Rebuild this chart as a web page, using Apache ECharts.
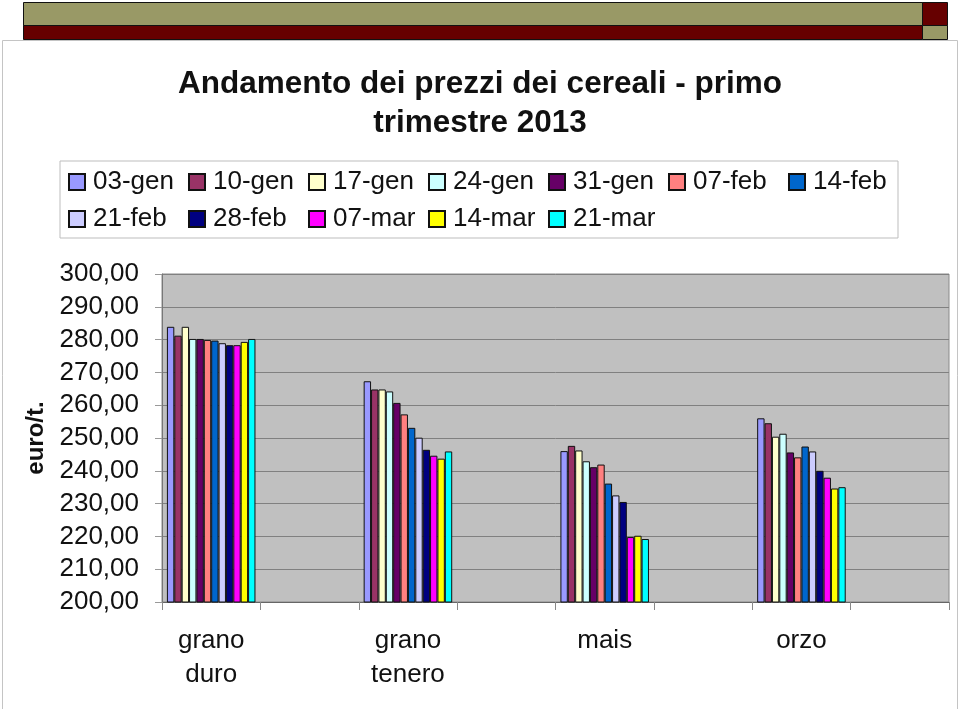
<!DOCTYPE html>
<html>
<head>
<meta charset="utf-8">
<script src="https://cdn.jsdelivr.net/npm/echarts@6/dist/echarts.min.js"></script>
<style>html,body{margin:0;padding:0;background:#fff}#c{width:960px;height:709px}</style>
</head>
<body>
<div id="c"></div>
<script>
// ---- data ----
var crops = ['grano\nduro', 'grano\ntenero', 'mais', 'orzo'];
var dates = ['03-gen', '10-gen', '17-gen', '24-gen', '31-gen', '07-feb', '14-feb', '21-feb', '28-feb', '07-mar', '14-mar', '21-mar'];
var granoDuro   = [283.9, 281.2, 283.9, 280.2, 280.2, 279.9, 279.7, 278.9, 278.3, 278.3, 279.3, 280.2];
var granoTenero = [267.3, 264.8, 264.8, 264.2, 260.7, 257.2, 253.1, 250.1, 246.4, 244.6, 243.7, 245.9];
var mais        = [246.0, 247.6, 246.2, 242.9, 241.1, 241.9, 236.1, 232.5, 230.5, 219.8, 220.2, 219.2];
var orzo        = [256.0, 254.5, 250.4, 251.3, 245.6, 244.1, 247.4, 245.9, 240.0, 237.9, 234.6, 235.0];
var yTicks = {min: 200, max: 300, step: 10};

var colors = ['#9999FF', '#993366', '#FFFFCC', '#CCFFFF', '#660066', '#FF8080', '#0066CC', '#CCCCFF', '#000080', '#FF00FF', '#FFFF00', '#00FFFF'];
var FONT = '"Liberation Sans", Arial, sans-serif';

// Category axis: each crop followed by an empty slot (as in the original chart)
var axisCats = [];
crops.forEach(function (c) { axisCats.push(c); axisCats.push(''); });
var byCrop = [granoDuro, granoTenero, mais, orzo];

var series = dates.map(function (d, i) {
  var data = [];
  byCrop.forEach(function (arr) { data.push(arr[i]); data.push(null); });
  return {
    name: d,
    type: 'bar',
    data: data,
    barGap: '0%',
    barCategoryGap: '10%',
    itemStyle: {color: colors[i], borderColor: '#111', borderWidth: 1},
    emphasis: {disabled: true}
  };
});

var chart = echarts.init(document.getElementById('c'), null, {renderer: 'canvas'});
chart.setOption({
  animation: false,
  backgroundColor: '#fff',
  graphic: [
    {type: 'rect', shape: {x: 2.5, y: 40.5, width: 955, height: 700}, style: {fill: '#fff', stroke: '#c4c4c4', lineWidth: 1}, z: -10},
    {type: 'rect', shape: {x: 23.5, y: 2.5, width: 899, height: 23}, style: {fill: '#999966', stroke: '#111', lineWidth: 1}},
    {type: 'rect', shape: {x: 922.5, y: 2.5, width: 25, height: 23}, style: {fill: '#660000', stroke: '#111', lineWidth: 1}},
    {type: 'rect', shape: {x: 23.5, y: 25.5, width: 899, height: 14}, style: {fill: '#660000', stroke: '#111', lineWidth: 1}},
    {type: 'rect', shape: {x: 922.5, y: 25.5, width: 25, height: 14}, style: {fill: '#999966', stroke: '#111', lineWidth: 1}}
  ],
  title: {
    text: 'Andamento dei prezzi dei cereali - primo\ntrimestre 2013',
    left: 'center',
    top: 60,
    textStyle: {fontFamily: FONT, fontWeight: 'bold', fontSize: 31.5, lineHeight: 39, color: '#111', align: 'center'}
  },
  legend: {
    left: 60,
    top: 161,
    width: 839,
    padding: [8, 1, 6, 8],
    backgroundColor: '#fff',
    borderColor: '#bdbdbd',
    borderWidth: 1,
    icon: 'rect',
    itemWidth: 16,
    itemHeight: 16,
    itemGap: 11,
    selectedMode: false,
    textStyle: {fontFamily: FONT, fontSize: 26, color: '#111', width: 84, lineHeight: 26, padding: [0, 0, 0, 3]},
    data: dates
  },
  grid: {left: 162, right: 11, top: 274, bottom: 107, backgroundColor: '#c0c0c0', show: true, borderColor: '#8a8a8a', borderWidth: 1},
  xAxis: {
    type: 'category',
    data: axisCats,
    axisLine: {lineStyle: {color: '#666', width: 1}},
    axisTick: {show: true, length: 8, lineStyle: {color: '#888'}},
    axisLabel: {fontFamily: FONT, fontSize: 26, color: '#111', lineHeight: 34, margin: 22, interval: 0},
    splitLine: {show: false}
  },
  yAxis: {
    type: 'value',
    min: yTicks.min,
    max: yTicks.max,
    interval: yTicks.step,
    name: 'euro/t.',
    nameLocation: 'middle',
    nameGap: 114,
    nameTextStyle: {fontFamily: FONT, fontWeight: 'bold', fontSize: 24, color: '#111'},
    axisLine: {show: true, lineStyle: {color: '#777'}},
    axisTick: {show: true, length: 7, lineStyle: {color: '#999'}},
    axisLabel: {
      fontFamily: FONT, fontSize: 26, color: '#111', margin: 23,
      formatter: function (v) { return v.toFixed(2).replace('.', ','); }
    },
    splitLine: {lineStyle: {color: '#808080', width: 1}}
  },
  series: series
});
</script>
</body>
</html>
